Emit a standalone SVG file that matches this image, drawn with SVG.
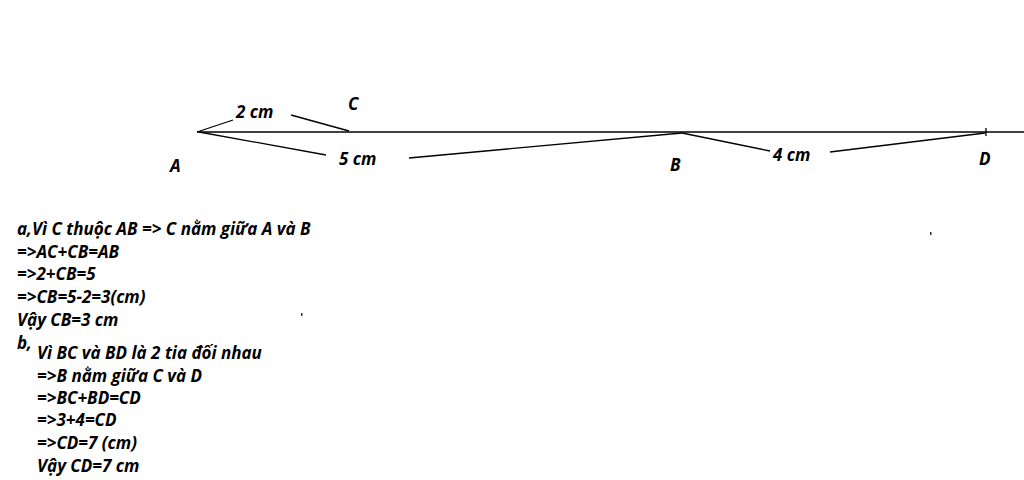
<svg xmlns="http://www.w3.org/2000/svg" width="1024" height="480" viewBox="0 0 1024 480">
<style>
.t{font-family:"Open Sans",Lato,"Liberation Sans",sans-serif;font-weight:bold;font-style:italic;font-size:17px;fill:#000}
.l{stroke:#000;stroke-width:1.3;fill:none}
</style>
<rect width="1024" height="480" fill="#fff"/>
<g id="connectors">
<path class="l" d="M197 132 L1024 132"/>
<path class="l" d="M197 132 L233 120 M291 115 L349 131"/>
<path class="l" d="M199 132 L326 155 M409 158 L682 133"/>
<path class="l" d="M682 133 L770 151 M830 152 L985 133"/>
<path class="l" d="M986 128 L986 136"/>
</g>
<g id="point-A"><text class="t" x="170" y="172">A</text></g>
<g id="point-C"><text class="t" x="348" y="110">C</text></g>
<g id="point-B"><text class="t" x="670" y="171">B</text></g>
<g id="point-D"><text class="t" x="979" y="165">D</text></g>
<g id="labels">
<text class="t" x="236" y="118">2 cm</text>
<text class="t" x="339" y="165">5 cm</text>
<text class="t" x="773" y="161">4 cm</text>
</g>
<g id="solution">
<text class="t" x="17" y="235">a,Vì C thuộc AB =&gt; C nằm giữa A và B</text>
<text class="t" x="17" y="258">=&gt;AC+CB=AB</text>
<text class="t" x="17" y="280">=&gt;2+CB=5</text>
<text class="t" x="17" y="303">=&gt;CB=5-2=3(cm)</text>
<text class="t" x="17" y="326">Vậy CB=3 cm</text>
<text class="t" x="17" y="349">b,</text>
<text class="t" x="37" y="359">Vì BC và BD là 2 tia đối nhau</text>
<text class="t" x="37" y="382">=&gt;B nằm giữa C và D</text>
<text class="t" x="37" y="404">=&gt;BC+BD=CD</text>
<text class="t" x="37" y="426">=&gt;3+4=CD</text>
<text class="t" x="37" y="449">=&gt;CD=7 (cm)</text>
<text class="t" x="37" y="472">Vậy CD=7 cm</text>
</g>
<rect x="930" y="232" width="1.5" height="3" fill="#333"/>
<rect x="301" y="313" width="1.5" height="3" fill="#333"/>
</svg>
